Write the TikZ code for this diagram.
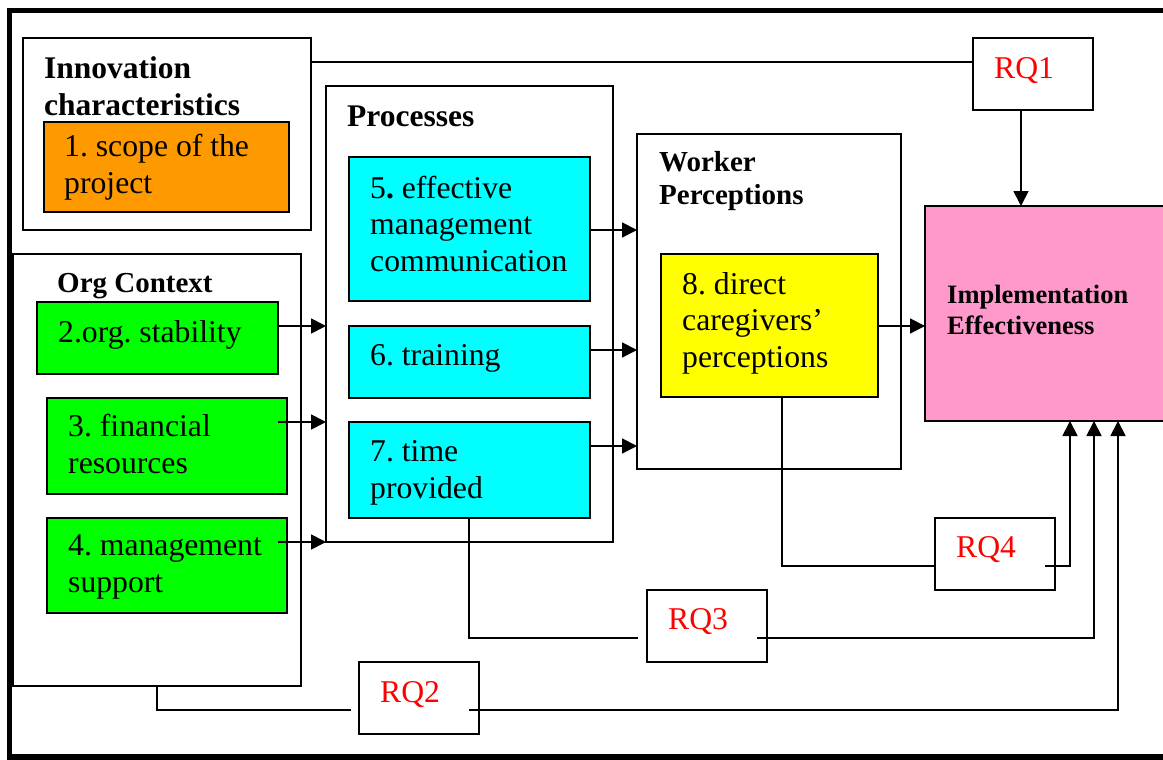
\documentclass[tikz,border=0pt]{standalone}
\usepackage{fontspec}
\setmainfont{Liberation Serif}
\usepackage{tikz}
\usetikzlibrary{arrows.meta, positioning, calc}
\frenchspacing
\definecolor{orng}{HTML}{FF9900}
\definecolor{grn}{HTML}{00FF00}
\definecolor{cyn}{HTML}{00FFFF}
\definecolor{ylw}{HTML}{FFFF00}
\definecolor{pnk}{HTML}{FF99CC}
\definecolor{rqred}{HTML}{FF0000}
\newcommand{\bodyfont}{\fontsize{31.7}{36.5}\selectfont}
\tikzset{
  box/.style ={rectangle, draw, line width=1.8pt, anchor=north west, inner sep=0pt, outer sep=0pt},
  grp/.style ={box, fill=white},
  itm/.style ={box, minimum width=241pt},
  txt/.style ={anchor=base west, inner sep=0pt, align=left, font=\bodyfont},
  hdr/.style ={txt, font=\bfseries\fontsize{31.5}{37}\selectfont},
  rqt/.style ={txt, text=rqred},
  ln/.style  ={line width=1.8pt},
  fl/.style  ={ln, -{Triangle[length=15pt, width=15pt]}},
}
\begin{document}
\begin{tikzpicture}[x=1pt, y=-1pt]
  \useasboundingbox (0,0) rectangle (1163,760);
  \node[grp, minimum width=288pt, minimum height=192pt] (innov) at (23,38) {};
  \node[box, fill=orng, minimum width=245pt, minimum height=90pt] (scope) at (44,122) {};
  \node[grp, minimum width=288pt, minimum height=432pt] (org) at (13,254) {};
  \node[itm, fill=grn, minimum height=72pt] (stab) at (37,302) {};
  \node[itm, fill=grn, minimum width=240pt, minimum height=96pt] (fin) at (47,398) {};
  \node[itm, fill=grn, minimum width=240pt, minimum height=95pt] (supp) at (47,518) {};
  \node[grp, minimum width=287pt, minimum height=456pt] (proc) at (326,86) {};
  \node[itm, fill=cyn, minimum height=144pt] (comm) at (349,157) {};
  \node[itm, fill=cyn, minimum height=72pt] (train) at (349,326) {};
  \node[itm, fill=cyn, minimum height=96pt] (time) at (349,422) {};
  \node[grp, minimum width=264pt, minimum height=335pt] (work) at (637,134) {};
  \node[box, fill=ylw, minimum width=217pt, minimum height=143pt] (care) at (661,254) {};
  \node[box, fill=pnk, minimum width=270pt, minimum height=215pt] (impl) at (925,206) {};
  \node[grp, minimum width=120pt, minimum height=72pt] (rq1) at (973,38) {};
  \node[grp, minimum width=120pt, minimum height=72pt] (rq4) at (935,518) {};
  \node[grp, minimum width=120pt, minimum height=72pt] (rq3) at (647,590) {};
  \node[grp, minimum width=120pt, minimum height=72pt] (rq2) at (359,662) {};

  \node[hdr] (innov-t) at (44,115) {Innovation\\characteristics};
  \node[txt] (scope-t) at (64,193) {1. scope of the\\project};
  \node[hdr, font=\bfseries\fontsize{29}{32.5}\selectfont] (org-t) at (57,292) {Org Context};
  \node[txt] (stab-t) at (58,342) {2.org. stability};
  \node[txt] (fin-t) at (68,473) {3. financial\\resources};
  \node[txt] (supp-t) at (68,592) {4. management\\support};
  \node[hdr] (proc-t) at (347,126) {Processes};
  \node[txt] (comm-t) at (370,271) {5\textbf{.} effective\\management\\communication};
  \node[txt] (train-t) at (370,365) {6. training};
  \node[txt] (time-t) at (370,498) {7. time\\provided};
  \node[hdr, font=\bfseries\fontsize{29}{32.5}\selectfont] (work-t) at (659,204) {Worker\\Perceptions};
  \node[txt] (care-t) at (682,367) {8. direct\\caregivers’\\perceptions};
  \node[hdr, font=\bfseries\fontsize{26.5}{31}\selectfont] (impl-t) at (947,334) {Implementation\\Effectiveness};
  \node[rqt] (rq1-t) at (994,79) {RQ1};
  \node[rqt] (rq4-t) at (956,557) {RQ4};
  \node[rqt] (rq3-t) at (668,629) {RQ3};
  \node[rqt] (rq2-t) at (380,702) {RQ2};

  \coordinate (rq4-in) at (1045,566);
  \coordinate (rq3-l) at (638,638);
  \coordinate (rq3-in) at (757,638);
  \coordinate (rq2-l) at (351,710);
  \coordinate (rq2-in) at (469,710);

  \draw[ln] (innov.east |- 0,62) -- (rq1.west |- 0,62);
  \draw[fl] (rq1.south -| 1021,0) -- (impl.north -| 1021,0);
  \draw[fl] (stab.east |- 0,326) -- (proc.west |- 0,326);
  \draw[fl] (278,422) -- (proc.west |- 0,422);
  \draw[fl] (278,542) -- (proc.west |- 0,542);
  \draw[fl] (comm.east |- 0,230) -- (work.west |- 0,230);
  \draw[fl] (train.east |- 0,350) -- (work.west |- 0,350);
  \draw[fl] (time.east |- 0,446) -- (work.west |- 0,446);
  \draw[fl] (care.east |- 0,326) -- (impl.west |- 0,326);
  \draw[ln] (care.south -| 782,0) |- (rq4.west |- 0,566);
  \draw[fl] (rq4-in) -| (impl.south -| 1070,0);
  \draw[ln] (time.south -| 469,0) |- (rq3-l);
  \draw[fl] (rq3-in) -| (impl.south -| 1094,0);
  \draw[ln] (org.south -| 157,0) |- (rq2-l);
  \draw[fl] (rq2-in) -| (impl.south -| 1118,0);

  \draw[line width=5.5pt] (9.5,10.5) rectangle (1185,757);
\end{tikzpicture}
\end{document}
